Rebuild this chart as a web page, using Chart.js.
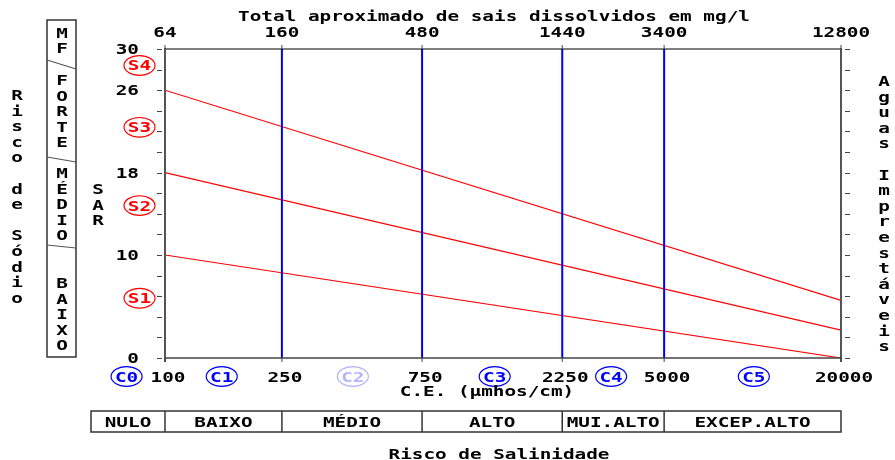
<!DOCTYPE html>
<html>
<head>
<meta charset="utf-8">
<script src="https://cdn.jsdelivr.net/npm/chart.js@4/dist/chart.umd.min.js"></script>
<style>
  html, body { margin: 0; padding: 0; background: #fff; }
  #wrap { width: 895px; height: 460px; }
</style>
</head>
<body>
<div id="wrap"><canvas id="c" width="895" height="460"></canvas></div>
<script>
// Electrical conductivity axis (µmhos/cm), logarithmic
const ecRange = [100, 20000];
const ecTickValues = [100, 250, 750, 2250, 5000, 20000];
const ecTickLabels = ['100', '250', '750', '2250', '5000', '20000'];
// Approximate total dissolved salts (mg/l) for the same positions
const tdsTickLabels = ['64', '160', '480', '1440', '3400', '12800'];
// Salinity class boundaries (vertical lines)
const classBoundaries = [250, 750, 2250, 5000];

// SAR axis
const sarRange = [0, 30];
const sarTickValues = [0, 10, 18, 26, 30];
const sarMinorStep = 2;

// Sodium class limits: SAR at EC = 100 and at EC = 20000
const lineS1S2 = [10, 0];
const lineS2S3 = [18, 2.7];
const lineS3S4 = [26, 5.6];

// Class codes
const sodiumCodes = ['S1', 'S2', 'S3', 'S4'];
const sodiumCodeSar = [5.8, 14.8, 22.4, 28.4];
const salinityCodes = ['C0', 'C1', 'C2', 'C3', 'C4', 'C5'];
const salinityCodeEc = [74, 156, 436, 1325, 3300, 10100];

// Risk descriptions
const salinityRisk = ['NULO', 'BAIXO', 'MÉDIO', 'ALTO', 'MUI.ALTO', 'EXCEP.ALTO'];
const sodiumRisk = ['MF', 'FORTE', 'MÉDIO', 'BAIXO'];

const FONT = 'bold 14px "DejaVu Sans Mono"';
const SX = 1.38;       // horizontal stretch of the lettering
const STEP = 15.6;     // line step of stacked (vertical) words

function text(ctx, str, x, y, opts = {}) {
  const align = opts.align || 'center';
  ctx.save();
  ctx.font = opts.font || FONT;
  ctx.fillStyle = opts.color || '#000';
  ctx.globalAlpha = opts.alpha == null ? 1 : opts.alpha;
  ctx.textBaseline = 'alphabetic';
  ctx.textAlign = 'left';
  const w = ctx.measureText(str).width * SX;
  const left = align === 'center' ? x - w / 2 : align === 'right' ? x - w : x;
  ctx.translate(left, y + 5);
  ctx.scale(SX, 1);
  ctx.fillText(str, 0, 0);
  ctx.restore();
}

function stacked(ctx, str, x, y0, step) {
  [...str].forEach((ch, i) => { if (ch !== ' ') text(ctx, ch, x, y0 + i * step); });
}

function ringLabel(ctx, str, x, y, color, alpha) {
  ctx.save();
  ctx.globalAlpha = alpha;
  ctx.strokeStyle = color;
  ctx.lineWidth = 1.2;
  ctx.beginPath();
  ctx.ellipse(x, y, 15.5, 9.8, 0, 0, Math.PI * 2);
  ctx.stroke();
  ctx.restore();
  text(ctx, str, x, y, { color, alpha });
}

function line(ctx, x1, y1, x2, y2, color, width) {
  ctx.save();
  ctx.strokeStyle = color;
  ctx.lineWidth = width;
  ctx.beginPath();
  ctx.moveTo(x1, y1);
  ctx.lineTo(x2, y2);
  ctx.stroke();
  ctx.restore();
}

const diagramDecor = {
  id: 'diagramDecor',
  afterDatasetsDraw(chart) {
    const ctx = chart.ctx;
    const xs = chart.scales.x, ys = chart.scales.y;
    const { left, right, top, bottom } = chart.chartArea;

    // frame of the plot
    line(ctx, left, top, right, top, '#000', 1);
    line(ctx, left, top - 1, left, bottom + 4, '#555', 2);
    line(ctx, right, top - 1, right, bottom + 4, '#555', 2);
    line(ctx, left, bottom, right, bottom, '#444', 1.5);

    // SAR ticks on both sides
    for (let v = sarRange[0]; v <= sarRange[1]; v += sarMinorStep) {
      const py = Math.round(ys.getPixelForValue(v)) + 0.5;
      line(ctx, left - 8, py, left - 3, py, '#444', 1);
      line(ctx, right + 4, py, right + 9, py, '#444', 1);
    }
    sarTickValues.forEach(v => text(ctx, String(v), left - 26, ys.getPixelForValue(v), { align: 'right' }));

    // EC ticks (bottom) and TDS ticks (top)
    ecTickValues.forEach((v, i) => {
      const px = xs.getPixelForValue(v);
      line(ctx, px, bottom, px, bottom + 4, '#444', 1);
      line(ctx, px, top - 4, px, top, '#444', 1);
      text(ctx, ecTickLabels[i], px + 3, 376.5);
      text(ctx, tdsTickLabels[i], px, 32);
    });

    // class codes
    sodiumCodes.forEach((c, i) => ringLabel(ctx, c, 139.5, ys.getPixelForValue(sodiumCodeSar[i]), '#ff0000', 1));
    salinityCodes.forEach((c, i) => ringLabel(ctx, c, xs.getPixelForValue(salinityCodeEc[i]), 376.5, '#0000ff', c === 'C2' ? 0.3 : 1));

    // titles
    text(ctx, 'Total aproximado de sais dissolvidos em mg/l', 494, 16);
    text(ctx, 'C.E. (µmhos/cm)', 487, 391);
    text(ctx, 'Risco de Salinidade', 499, 454);
    stacked(ctx, 'Risco de Sódio', 17, 95, STEP);
    stacked(ctx, 'SAR', 98, 189, STEP);
    stacked(ctx, 'Aguas Imprestáveis', 884, 81, STEP);

    // sodium risk box
    ctx.save();
    ctx.strokeStyle = '#333';
    ctx.lineWidth = 1.5;
    ctx.strokeRect(47, 20, 29, 337);
    ctx.restore();
    line(ctx, 47, 60, 76, 69, '#555', 1.2);
    line(ctx, 47, 157, 76, 162, '#555', 1.2);
    line(ctx, 47, 245, 76, 248, '#555', 1.2);
    const riskStarts = [33, 80, 173, 283];
    sodiumRisk.forEach((w, i) => stacked(ctx, w, 62, riskStarts[i], STEP - (i === 0 ? 1 : 0)));

    // salinity risk table
    const edges = [91, ...ecTickValues.map(v => xs.getPixelForValue(v))];
    ctx.save();
    ctx.strokeStyle = '#333';
    ctx.lineWidth = 1.5;
    ctx.strokeRect(edges[0], 411, edges[edges.length - 1] - edges[0], 21);
    edges.slice(1, -1).forEach(e => {
      ctx.beginPath(); ctx.moveTo(e, 411); ctx.lineTo(e, 432); ctx.stroke();
    });
    ctx.restore();
    salinityRisk.forEach((w, i) => text(ctx, w, (edges[i] + edges[i + 1]) / 2, 422));
  }
};

const boundaryDatasets = classBoundaries.map(ec => ({
  data: [{ x: ec, y: sarRange[0] }, { x: ec, y: sarRange[1] }],
  borderColor: '#0000ff',
  borderWidth: 2,
  pointRadius: 0,
  order: 0
}));

const sodiumDatasets = [lineS1S2, lineS2S3, lineS3S4].map(l => ({
  data: [{ x: ecRange[0], y: l[0] }, { x: ecRange[1], y: l[1] }],
  borderColor: '#ff0000',
  borderWidth: 1.2,
  pointRadius: 0,
  order: 1
}));

new Chart(document.getElementById('c'), {
  type: 'line',
  data: { datasets: [...boundaryDatasets, ...sodiumDatasets] },
  options: {
    responsive: false,
    devicePixelRatio: 1,
    animation: false,
    events: [],
    layout: { padding: { left: 165, right: 54, top: 49, bottom: 102 } },
    plugins: { legend: { display: false }, tooltip: { enabled: false } },
    scales: {
      x: { type: 'logarithmic', min: ecRange[0], max: ecRange[1], display: false },
      y: { type: 'linear', min: sarRange[0], max: sarRange[1], display: false }
    }
  },
  plugins: [diagramDecor]
});
</script>
</body>
</html>
